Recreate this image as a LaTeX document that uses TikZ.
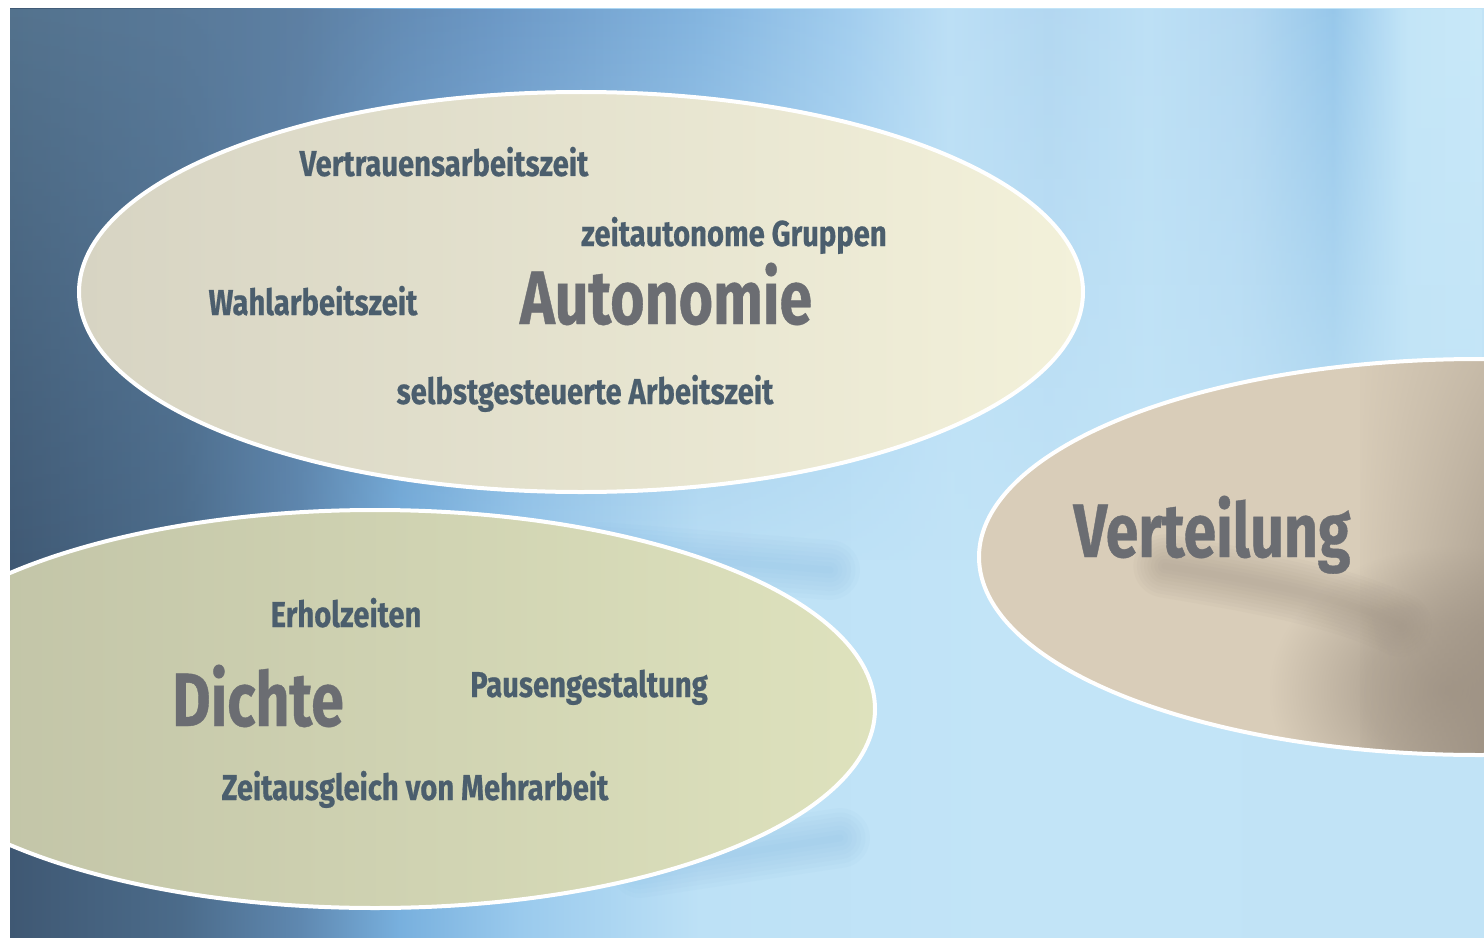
\documentclass[tikz,border=0pt]{standalone}
\usepackage{fontspec}
\setmainfont{Fira Sans}[FakeStretch=0.78, BoldFeatures={FakeBold=0.5}]
\newfontfamily\topicfont{Fira Sans}[FakeStretch=0.81, BoldFeatures={FakeBold=0.5}]
\usetikzlibrary{fadings,shadings}

\definecolor{lowA}{HTML}{3F5873}
\definecolor{lowB}{HTML}{4B6B8A}
\definecolor{lowC}{HTML}{5F88B0}
\definecolor{lowD}{HTML}{78B0DE}
\definecolor{lowE}{HTML}{9ACAED}
\definecolor{lowF}{HTML}{BDE1F6}
\definecolor{lowG}{HTML}{C2E4F7}
\definecolor{lowH}{HTML}{C1E3F6}
\definecolor{topA}{HTML}{55748F}
\definecolor{topB}{HTML}{5D7FA2}
\definecolor{topC}{HTML}{6A96C4}
\definecolor{topD}{HTML}{80B2DE}
\definecolor{topE}{HTML}{A0CCEE}
\definecolor{topF}{HTML}{BCDFF5}
\definecolor{topG}{HTML}{B2D7F1}
\definecolor{topH}{HTML}{BDE0F5}
\definecolor{topI}{HTML}{B2D7F1}
\definecolor{topJ}{HTML}{95C6EA}
\definecolor{topK}{HTML}{C4E6F8}
\definecolor{topL}{HTML}{C9E9F9}
\definecolor{streakblue}{HTML}{7FB2DE}
\definecolor{autoL}{HTML}{D7D4C3}
\definecolor{autoM}{HTML}{E6E4D0}
\definecolor{autoR}{HTML}{F3F1DA}
\definecolor{dichteL}{HTML}{BFC1A5}
\definecolor{dichteM}{HTML}{D2D9B9}
\definecolor{dichteR}{HTML}{DEE2BD}
\definecolor{vertC}{HTML}{D9CDB9}
\definecolor{vertShadow}{HTML}{9C9082}
\definecolor{smalltxt}{HTML}{4B5E6D}
\definecolor{bigtxt}{HTML}{6B6D72}

\pgfdeclarehorizontalshading{bglow}{100bp}{color(0bp)=(lowA); color(25bp)=(lowA);
  color(30.77bp)=(lowB); color(34.84bp)=(lowC); color(38.23bp)=(lowD); color(42.3bp)=(lowE);
  color(48.41bp)=(lowF); color(58.58bp)=(lowG); color(75bp)=(lowH); color(100bp)=(lowH)}
\pgfdeclarehorizontalshading{bgtop}{100bp}{color(0bp)=(topA); color(25bp)=(topA);
  color(34.84bp)=(topB); color(41.62bp)=(topC); color(48.41bp)=(topD); color(53.49bp)=(topE);
  color(56.89bp)=(topF); color(60.28bp)=(topG); color(63.67bp)=(topH); color(67.06bp)=(topI);
  color(69.95bp)=(topJ); color(72.49bp)=(topK); color(75bp)=(topL); color(100bp)=(topL)}
\pgfdeclareradialshading{vertblob}{\pgfpointorigin}{color(0bp)=(vertShadow!80!vertC);
  color(9bp)=(vertShadow!55!vertC); color(19bp)=(vertC); color(50bp)=(vertC)}
\pgfdeclarefading{bgfade}{\tikz\shade[top color=pgftransparent!0, middle color=pgftransparent!30,
  bottom color=pgftransparent!100] (0,0) rectangle (2,2);}
\pgfdeclarefading{cornerfade}{\tikz\shade[upper left=pgftransparent!100, upper right=pgftransparent!75,
  lower left=pgftransparent!100, lower right=pgftransparent!0] (0,0) rectangle (2,2);}

\begin{document}
\begin{tikzpicture}[x=0.2mm, y=-0.2mm,
    rim/.style={draw=white, line width=0.8mm},
    topic/.style={font=\topicfont\fontsize{20.5}{22}\selectfont\bfseries, text=smalltxt, inner sep=0pt, anchor=base},
    headline/.style={font=\fontsize{43}{46}\selectfont\bfseries, text=bigtxt, inner sep=0pt, anchor=base}]
    \useasboundingbox (0,0) rectangle (1484,938);
    \fill[white] (0,0) rectangle (1484,938);
    \begin{scope}
        \clip (10,9) rectangle (1484,938);
        \shade[shading=bglow] (10,9) rectangle (1484,938);
        \shade[shading=bgtop, path fading=bgfade] (10,9) rectangle (1484,560);
        \foreach \w in {4,9,...,34} {
            \draw[streakblue, line width=\w pt, opacity=0.05, line cap=round] (600,552) -- (830,570);
            \draw[streakblue, line width=\w pt, opacity=0.05, line cap=round] (640,868) -- (840,838);
        }
        % Dichte
        \shade[left color=dichteL, middle color=dichteM, right color=dichteR] (375,709) ellipse [x radius=500, y radius=199];
        \draw[rim] (375,709) ellipse [x radius=500, y radius=199];
        % Autonomie
        \shade[left color=autoL, middle color=autoM, right color=autoR] (581,292) ellipse [x radius=502, y radius=200];
        \draw[rim] (581,292) ellipse [x radius=502, y radius=200];
        % Verteilung
        \fill[vertC] (1479,557) ellipse [x radius=500, y radius=198];
        \begin{scope}
            \clip (1479,557) ellipse [x radius=500, y radius=198];
            \shade[shading=vertblob] (1450,690) ellipse [x radius=240, y radius=190];
            \fill[vertShadow, path fading=cornerfade] (1360,340) rectangle (1484,780);
            \foreach \w in {4,8,...,36} {
                \draw[vertShadow, line width=\w pt, opacity=0.055, line cap=round]
                    (1165,566) .. controls (1260,582) and (1340,596) .. (1400,625);
            }
        \end{scope}
        \draw[rim] (1479,557) ellipse [x radius=500, y radius=198];
    \end{scope}

    \node[topic] (vertrauen) at (444,176) {Vertrauensarbeitszeit};
    \node[topic] (gruppen) at (734,246) {zeitautonome Gruppen};
    \node[topic] (wahl) at (313,315) {Wahlarbeitszeit};
    \node[headline] (autonomie) at (666,324) {Autonomie};
    \node[topic] (selbst) at (585,404) {selbstgesteuerte Arbeitszeit};

    \node[topic] (erhol) at (346,627) {Erholzeiten};
    \node[headline] (dichte) at (258,726) {Dichte};
    \node[topic] (pausen) at (589,697) {Pausengestaltung};
    \node[topic] (ausgleich) at (415,800) {Zeitausgleich von Mehrarbeit};

    \node[headline] (verteilung) at (1212,557) {Verteilung};
\end{tikzpicture}
\end{document}
